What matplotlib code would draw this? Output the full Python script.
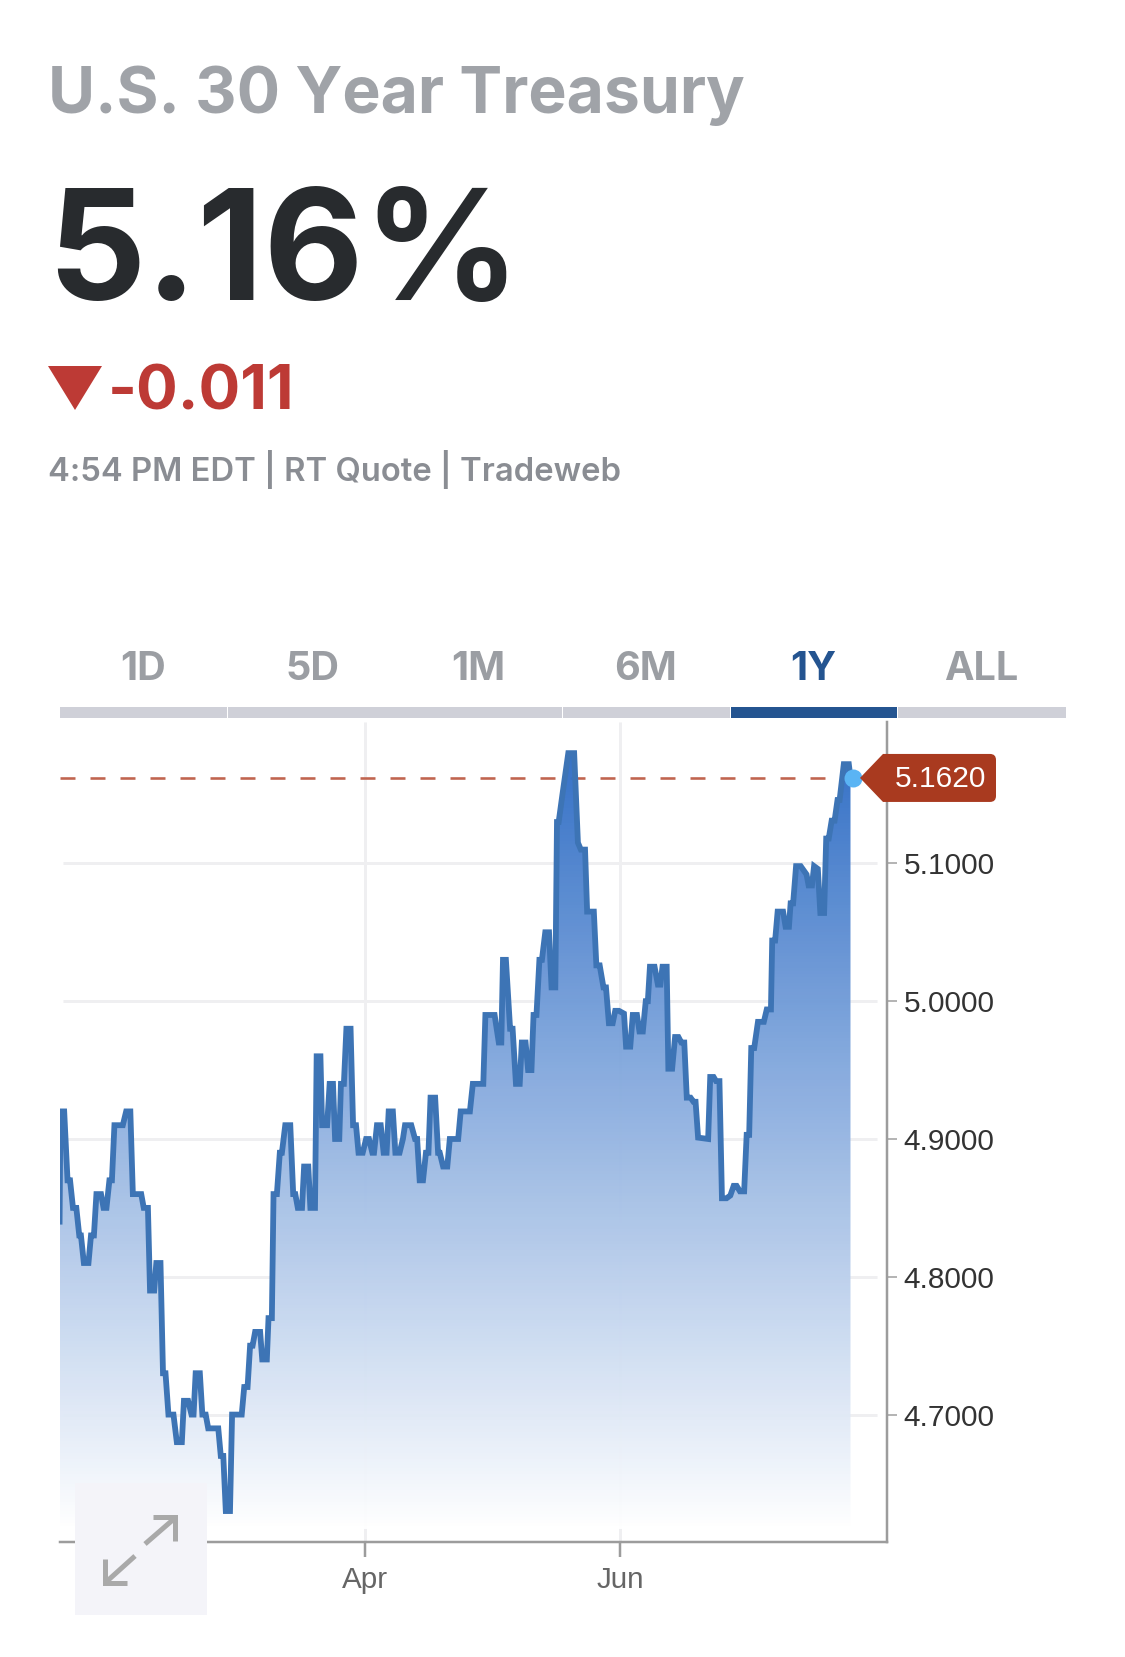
import numpy as np
from matplotlib import pyplot as plt
from matplotlib.patches import PathPatch, Polygon, Rectangle
from matplotlib.path import Path

# days relative to 1 Apr, yield in %
days = [
    -72.9, -72.7, -71.8, -71.0, -70.4, -69.7, -68.9, -68.2, -67.8, -67.1, -66.0, -65.4, -64.7, -64.1, -63.0,
    -62.4, -61.7, -61.0, -60.4, -59.8, -57.8, -57.0, -56.0, -55.4, -53.4, -52.8, -51.8, -51.3, -50.3, -49.8,
    -48.8, -48.2, -47.6, -46.9, -45.7, -44.9, -43.7, -43.2, -42.2, -41.4, -40.9, -40.4, -39.4, -38.8, -38.0,
    -37.4, -35.0, -34.4, -33.8, -33.2, -32.2, -31.7, -29.4, -28.8, -28.0, -27.4, -26.8, -26.2, -25.0, -24.5,
    -23.4, -23.0, -22.2, -21.8, -21.0, -20.3, -19.8, -19.0, -17.8, -17.1, -16.6, -16.0, -15.0, -14.5, -13.5,
    -13.0, -11.9, -11.5, -10.6, -10.2, -9.0, -8.4, -7.6, -7.1, -6.1, -5.7, -5.0, -4.4, -3.4, -2.8,
    -2.1, -1.5, -0.5, 0.3, 1.0, 1.8, 2.2, 2.9, 3.8, 4.5, 5.2, 5.7, 6.7, 7.3, 8.3,
    9.1, 9.6, 11.1, 12.0, 12.5, 13.1, 13.9, 14.6, 15.2, 15.7, 16.8, 17.5, 17.9, 18.7, 19.7,
    20.3, 22.3, 22.9, 25.1, 25.8, 28.3, 28.8, 31.0, 32.0, 32.6, 33.0, 33.7, 34.7, 35.3, 36.1,
    37.0, 37.5, 38.4, 39.0, 39.8, 40.3, 41.0, 41.7, 42.3, 43.1, 44.0, 44.6, 45.5, 45.9, 46.3,
    47.2, 48.6, 50.0, 50.9, 51.6, 52.6, 53.1, 54.7, 55.3, 56.1, 57.0, 57.6, 58.3, 59.2, 59.8,
    60.7, 61.9, 62.4, 63.4, 64.0, 65.0, 65.6, 66.4, 67.1, 67.6, 68.1, 69.2, 70.0, 70.6, 71.1,
    72.1, 72.5, 73.4, 74.1, 74.9, 75.6, 76.3, 76.9, 77.8, 78.5, 79.0, 79.6, 82.0, 82.5, 83.3,
    83.9, 84.7, 85.3, 86.4, 87.3, 88.1, 88.8, 89.6, 90.6, 91.2, 91.8, 92.3, 93.0, 93.9, 95.3,
    96.0, 97.0, 97.3, 98.0, 98.6, 99.9, 100.5, 101.3, 101.7, 102.3, 103.0, 104.1, 104.8, 105.5, 106.0,
    106.8, 107.3, 108.2, 108.8, 109.7, 110.2, 110.8, 111.5, 112.2, 112.9, 113.4, 114.4, 115.6, 116.0,
]
yields = [
    4.84, 4.92, 4.92, 4.87, 4.87, 4.85, 4.85, 4.83, 4.83, 4.81, 4.81, 4.83, 4.83, 4.86, 4.86,
    4.85, 4.85, 4.87, 4.87, 4.91, 4.91, 4.92, 4.92, 4.86, 4.86, 4.85, 4.85, 4.79, 4.79, 4.81,
    4.81, 4.73, 4.73, 4.70, 4.70, 4.68, 4.68, 4.71, 4.71, 4.70, 4.70, 4.73, 4.73, 4.70, 4.70,
    4.69, 4.69, 4.67, 4.67, 4.63, 4.63, 4.70, 4.70, 4.72, 4.72, 4.75, 4.75, 4.76, 4.76, 4.74,
    4.74, 4.77, 4.77, 4.86, 4.86, 4.89, 4.89, 4.91, 4.91, 4.86, 4.86, 4.85, 4.85, 4.88, 4.88,
    4.85, 4.85, 4.96, 4.96, 4.91, 4.91, 4.94, 4.94, 4.90, 4.90, 4.94, 4.94, 4.98, 4.98, 4.91,
    4.91, 4.89, 4.89, 4.90, 4.90, 4.89, 4.89, 4.91, 4.91, 4.89, 4.89, 4.92, 4.92, 4.89, 4.89,
    4.90, 4.91, 4.91, 4.90, 4.90, 4.87, 4.87, 4.89, 4.89, 4.93, 4.93, 4.89, 4.89, 4.88, 4.88,
    4.90, 4.90, 4.92, 4.92, 4.94, 4.94, 4.99, 4.99, 4.97, 4.97, 5.03, 5.03, 4.98, 4.98, 4.94,
    4.94, 4.97, 4.97, 4.95, 4.95, 4.99, 4.99, 5.03, 5.03, 5.05, 5.05, 5.01, 5.01, 5.13, 5.13,
    5.15, 5.18, 5.18, 5.115, 5.11, 5.11, 5.065, 5.065, 5.026, 5.026, 5.01, 5.01, 4.984, 4.984, 4.993,
    4.993, 4.991, 4.967, 4.967, 4.99, 4.99, 4.978, 4.978, 5.0, 5.0, 5.025, 5.025, 5.012, 5.012, 5.025,
    5.025, 4.951, 4.951, 4.974, 4.974, 4.97, 4.97, 4.93, 4.93, 4.927, 4.927, 4.901, 4.90, 4.945, 4.945,
    4.942, 4.942, 4.857, 4.857, 4.859, 4.866, 4.866, 4.862, 4.862, 4.903, 4.903, 4.966, 4.966, 4.985, 4.985,
    4.994, 4.994, 5.044, 5.044, 5.065, 5.065, 5.054, 5.054, 5.071, 5.071, 5.098, 5.098, 5.095, 5.092, 5.084,
    5.084, 5.098, 5.096, 5.064, 5.064, 5.118, 5.118, 5.131, 5.131, 5.146, 5.146, 5.172, 5.172, 5.162,
]
last_value = 5.162
y_ticks = [4.7, 4.8, 4.9, 5.0, 5.1]
x_ticks = [0, 61]
x_labels = ["Apr", "Jun"]
tabs = ["1D", "5D", "1M", "6M", "1Y", "ALL"]
tab_centers = [143, 312, 478, 646, 813, 981]
tab_edges = [60, 228, 563, 731, 898, 1067]

W, H = 1125, 1657
LABEL_FONT = "Liberation Sans"
HEAD_FONT = "Inter"
LINE_BLUE = "#3d74b5"
TAB_BLUE = "#245490"
GRID = "#efeff1"
AXIS = "#9c9c9c"


def px(width):
    return width * 0.72


fig = plt.figure(figsize=(W / 100, H / 100), dpi=100)
left, right, top, bottom = 60, 886.5, 722, 1541.5
ax = fig.add_axes([left / W, 1 - bottom / H, (right - left) / W, (bottom - top) / H])
xlim = (-72.8, 124.6)
ylim = (4.6079, 5.2026)

ax.spines[["left", "top"]].set_visible(False)
ax.spines[["right", "bottom"]].set_color(AXIS)
ax.spines[["right", "bottom"]].set_linewidth(px(2.5))

ax.yaxis.tick_right()
ax.set_yticks(y_ticks, [f"{v:.4f}" for v in y_ticks])
ax.set_xticks(x_ticks, x_labels)
ax.tick_params(axis="y", length=px(10), width=px(2), color="#b5b5b5", pad=px(7),
               labelsize=21.5, labelcolor="#333333", labelfontfamily=LABEL_FONT)
ax.tick_params(axis="x", length=px(15), width=px(2.5), color=AXIS, pad=px(9),
               labelsize=21.3, labelcolor="#666666", labelfontfamily=LABEL_FONT)

ax.hlines(y_ticks, 0.004, 0.989, transform=ax.get_yaxis_transform(), color=GRID, lw=px(3), zorder=1)
ax.vlines(x_ticks, 0, 1, transform=ax.get_xaxis_transform(), color=GRID, lw=px(3), zorder=1)
ax.plot([days[0], 116.5], [last_value, last_value], color="#c0644f", lw=px(2.6),
        dashes=(15 / 2.6, 15 / 2.6), zorder=1.5)

# gradient area under the line, mostly opaque so the grid only just shows through
floor = 4.617
color = np.array([48, 110, 198]) / 255
strength = np.linspace(1, 0, 256)[:, None, None]
gradient = np.ones((256, 1, 4))
gradient[..., :3] = 1 - strength * (1 - color)
gradient[..., 3] = 0.97
image = ax.imshow(gradient, extent=[days[0], days[-1], floor, max(yields)], aspect="auto", origin="upper", zorder=2)
outline = Polygon(list(zip(days, yields)) + [(days[-1], floor), (days[0], floor)], closed=True,
                  facecolor="none", edgecolor="none")
ax.add_patch(outline)
image.set_clip_path(outline)
ax.set_xlim(*xlim)
ax.set_ylim(*ylim)

ax.plot(days, yields, color=LINE_BLUE, lw=px(5.8), solid_joinstyle="miter", zorder=3)
ax.plot([116.5], [last_value], "o", color="#5ab4f4", ms=px(18), mew=0, zorder=5, clip_on=False)

# overlay in pixel coordinates for the page furniture
page = fig.add_axes([0, 0, 1, 1], zorder=4)
page.axis("off")
page.patch.set_visible(False)

page.text(48, 113, "U.S. 30 Year Treasury", family=HEAD_FONT, weight="bold", size=46.3, color="#a0a3a8", va="baseline")
page.text(47, 300, "5.16%", family=HEAD_FONT, weight="bold", size=111, color="#282b2e", va="baseline")
page.add_patch(Polygon([(48, 366), (102, 366), (75, 410)], color="#bd3a35", lw=0))
page.text(108, 409, "-0.011", family=HEAD_FONT, weight="bold", size=44.5, color="#bd3a35", va="baseline")
page.text(48, 481, "4:54 PM EDT | RT Quote | Tradeweb", family=HEAD_FONT, weight="semibold", size=23.6,
          color="#8a8d93", va="baseline")

for name, center in zip(tabs, tab_centers):
    page.text(center, 680, name, family=HEAD_FONT, weight="bold", size=28.5, ha="center", va="baseline",
              color=TAB_BLUE if name == "1Y" else "#9b9ea3")
for i, (x0, x1) in enumerate(zip(tab_edges[:-1], tab_edges[1:])):
    page.add_patch(Rectangle((x0, 707), x1 - x0 - 1.5, 11, lw=0,
                             color=TAB_BLUE if i == 3 else "#cfd0d8"))

# price tag, placed from the last value
ax.set_xlim(*xlim)
ax.set_ylim(*ylim)
tag_y = H - ax.transData.transform((0, last_value))[1]
tl, tr, th, r = 883, 996, 24, 6
tag_verts = [(860, tag_y), (tl, tag_y - th), (tr - r, tag_y - th), (tr, tag_y - th), (tr, tag_y - th + r),
             (tr, tag_y + th - r), (tr, tag_y + th), (tr - r, tag_y + th), (tl, tag_y + th), (860, tag_y)]
tag_codes = [Path.MOVETO, Path.LINETO, Path.LINETO, Path.CURVE3, Path.CURVE3,
             Path.LINETO, Path.CURVE3, Path.CURVE3, Path.LINETO, Path.CLOSEPOLY]
page.add_patch(PathPatch(Path(tag_verts, tag_codes), facecolor="#a93a1f", edgecolor="none"))
page.text(940, tag_y + 1, f"{last_value:.4f}", family=LABEL_FONT, size=21.5, color="white", ha="center", va="center")

# expand button
page.add_patch(Rectangle((75, 1483), 132, 132, color="#f4f4f9", lw=0))
arrow = dict(color="#a9a9a9", lw=px(5), solid_capstyle="butt", solid_joinstyle="miter")
page.plot([145, 175], [1544, 1518], **arrow)
page.plot([153, 175, 175], [1517, 1517, 1541], **arrow)
page.plot([135, 105], [1556, 1583], **arrow)
page.plot([127, 105, 105], [1583, 1583, 1559], **arrow)
page.set_xlim(0, W)
page.set_ylim(H, 0)

fig.savefig("out.png", dpi=100)
